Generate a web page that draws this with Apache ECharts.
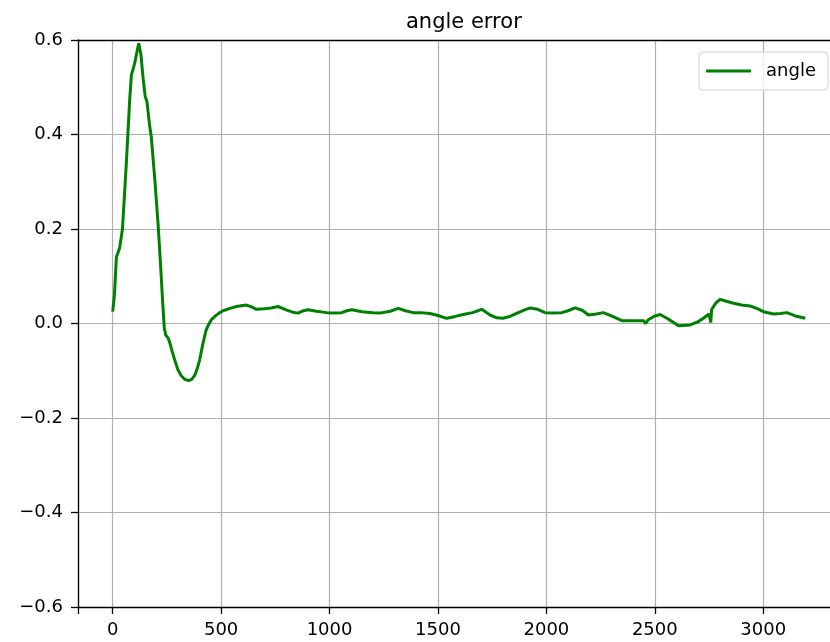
<!DOCTYPE html>
<html>
<head>
    <meta charset="UTF-8">
    <script src="https://cdn.jsdelivr.net/npm/echarts@6/dist/echarts.min.js"></script>
    <style>
        html, body { margin: 0; padding: 0; background: #fff; }
        #main { width: 830px; height: 642px; }
    </style>
</head>
<body>
    <div id="main"></div>
    <script>
        // sample index (x)
        var xs = [0, 8, 17, 32, 45, 63, 78, 86, 101, 112, 120, 130, 140, 150, 158, 170, 178, 195, 209, 220,
            229, 238, 245, 255, 263, 275, 286, 300, 315, 332, 350, 365, 380, 392, 401, 415, 430, 440, 455, 471,
            490, 509, 540, 571, 600, 617, 640, 663, 700, 730, 763, 800, 830, 855, 880, 901, 940, 986, 1020, 1056,
            1080, 1102, 1150, 1200, 1232, 1280, 1317, 1350, 1386, 1420, 1463, 1500, 1540, 1580, 1617, 1660, 1702, 1740, 1771, 1800,
            1832, 1860, 1900, 1925, 1960, 1994, 2030, 2071, 2100, 2132, 2165, 2194, 2230, 2263, 2300, 2348, 2400, 2448, 2458, 2470,
            2500, 2525, 2560, 2609, 2663, 2700, 2724, 2750, 2756, 2758, 2762, 2771, 2785, 2801, 2830, 2863, 2900, 2940, 2970, 3001,
            3048, 3080, 3109, 3148, 3194];
        // angle error values
        var angle = [0.025, 0.06, 0.14, 0.16, 0.2, 0.34, 0.47, 0.525, 0.55, 0.575, 0.593, 0.57, 0.52, 0.48, 0.47, 0.42, 0.395, 0.3, 0.212, 0.13,
            0.057, -0.01, -0.025, -0.03, -0.04, -0.06, -0.077, -0.097, -0.11, -0.118, -0.121, -0.118, -0.108, -0.092, -0.077, -0.045, -0.015, -0.004, 0.008, 0.015,
            0.022, 0.027, 0.032, 0.036, 0.038, 0.039, 0.035, 0.03, 0.031, 0.033, 0.036, 0.029, 0.024, 0.022, 0.027, 0.029, 0.026, 0.023, 0.022, 0.023,
            0.027, 0.029, 0.025, 0.023, 0.022, 0.026, 0.032, 0.027, 0.023, 0.023, 0.021, 0.017, 0.011, 0.015, 0.019, 0.023, 0.03, 0.018, 0.012, 0.011,
            0.015, 0.021, 0.029, 0.033, 0.03, 0.023, 0.022, 0.023, 0.027, 0.033, 0.028, 0.018, 0.02, 0.023, 0.016, 0.006, 0.006, 0.006, 0.0, 0.008,
            0.016, 0.019, 0.01, -0.005, -0.003, 0.004, 0.011, 0.02, 0.024, 0.002, 0.03, 0.036, 0.045, 0.051, 0.047, 0.043, 0.039, 0.037, 0.032, 0.025,
            0.02, 0.021, 0.023, 0.016, 0.011];
        var xTicks = [0, 500, 1000, 1500, 2000, 2500, 3000];
        var seriesName = 'angle';
        var titleText = 'angle error';

        var font = 'DejaVu Sans';
        var myChart = echarts.init(document.getElementById('main'));

        var lineData = [];
        for (var i = 0; i < xs.length; i++) {
            lineData.push([xs[i], angle[i]]);
        }

        var spine = { color: '#000', width: 1.3 };
        var option = {
            backgroundColor: '#fff',
            animation: false,
            title: {
                text: titleText,
                left: 401,
                top: 7,
                textStyle: { fontFamily: font, fontSize: 21, fontWeight: 'normal', color: '#000' }
            },
            legend: {
                data: [{ name: seriesName, icon: 'rect' }],
                right: 2,
                top: 52,
                itemWidth: 45,
                itemHeight: 3,
                padding: [10, 12, 10, 7],
                borderColor: '#d0d0d0',
                borderWidth: 1,
                borderRadius: 4,
                backgroundColor: 'rgba(255,255,255,0.8)',
                textStyle: { fontFamily: font, fontSize: 18, color: '#000', padding: [0, 0, 0, 10] }
            },
            grid: {
                left: 78,
                top: 40,
                bottom: 35,
                width: 762,
                outerBounds: { left: 0, top: 0, right: -40, bottom: 0 }
            },
            xAxis: [{
                type: 'value',
                position: 'bottom',
                min: -160,
                max: 3354,
                splitNumber: 7,
                axisLine: { show: true, onZero: false, lineStyle: spine },
                axisTick: { show: true, inside: false, length: 7, lineStyle: spine },
                axisLabel: {
                    margin: 14,
                    fontFamily: font,
                    fontSize: 18,
                    color: '#000',
                    showMinLabel: true,
                    formatter: function (v) { return xTicks.indexOf(v) >= 0 ? String(v) : ''; }
                },
                splitLine: { show: true, lineStyle: { color: '#b0b0b0', width: 1.2 } }
            }, {
                // top spine
                type: 'value',
                position: 'top',
                min: -160,
                max: 3354,
                axisLine: { show: true, onZero: false, lineStyle: spine },
                axisTick: { show: false },
                axisLabel: { show: false },
                splitLine: { show: false }
            }],
            yAxis: {
                type: 'value',
                min: -0.6,
                max: 0.6,
                interval: 0.2,
                axisLine: { show: true, onZero: false, lineStyle: spine },
                axisTick: { show: true, inside: false, length: 7, lineStyle: spine },
                axisLabel: {
                    margin: 15,
                    fontFamily: font,
                    fontSize: 18,
                    color: '#000',
                    formatter: function (v) {
                        if (Math.abs(v) < 1e-9) return '0.0';
                        return v.toFixed(1).replace('-', '\u2212');
                    }
                },
                splitLine: { show: true, lineStyle: { color: '#b0b0b0', width: 1.2 } }
            },
            series: [{
                name: seriesName,
                type: 'line',
                data: lineData,
                showSymbol: false,
                symbol: 'none',
                color: '#008000',
                lineStyle: { color: '#008000', width: 3 }
            }]
        };
        myChart.setOption(option);
    </script>
</body>
</html>
